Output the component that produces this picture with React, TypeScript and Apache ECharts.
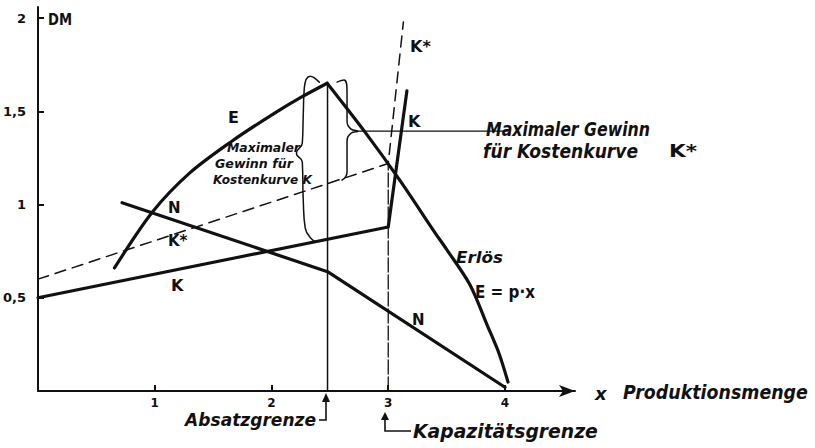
import React, { useEffect, useRef } from "react";
import * as echarts from "echarts";

// Data (x = Produktionsmenge, y = DM)
const erloesUp: number[][] = [
  [0.655, 0.66], [0.98, 0.96], [1.3, 1.17], [1.66, 1.34], [2.0, 1.48], [2.255, 1.576], [2.477, 1.651],
];
const erloesDown: number[][] = [
  [2.477, 1.651], [2.8, 1.39], [3.1, 1.13], [3.4, 0.85], [3.5, 0.76], [3.7, 0.57], [3.85, 0.35], [3.95, 0.2], [4.026, 0.048],
];
const kostenK: number[][] = [[0, 0.5], [3.0, 0.88], [3.16, 1.61]];
const kostenKStar: number[][] = [[0, 0.6], [3.0, 1.22], [3.13, 1.98]];
const nutzenN: number[][] = [[0.72, 1.01], [2.48, 0.64], [4.0, 0.02]];
const absatzgrenze: number[][] = [[2.48, 0], [2.48, 1.65]];
const kapazitaetsgrenze: number[][] = [[3.0, 0], [3.0, 1.22]];
const leader: number[][] = [[2.74, 1.394], [4.02, 1.394]];
const braceLeft: number[][] = [
  [2.409, 1.657], [2.332, 1.689], [2.281, 1.625], [2.272, 1.48], [2.264, 1.33],
  [2.213, 1.276], [2.264, 1.228], [2.272, 1.024], [2.289, 0.874], [2.366, 0.804],
];
const braceRight: number[][] = [
  [2.562, 1.657], [2.621, 1.668], [2.647, 1.603], [2.647, 1.453], [2.681, 1.405],
  [2.74, 1.394], [2.681, 1.383], [2.647, 1.335], [2.647, 1.174], [2.604, 1.131],
];
const xTicks = ["1", "2", "3", "4"];
const yTicks = ["0,5", "1", "1,5", "2"];

const FONT = "DejaVu Sans";
const INK = "#111";

function fmtX(v: number) {
  const i = Math.round(v) - 1;
  return Math.abs(v - Math.round(v)) < 1e-6 && i >= 0 && i < xTicks.length ? xTicks[i] : "";
}
function fmtY(v: number) {
  const i = Math.round(v / 0.5) - 1;
  return Math.abs(v / 0.5 - Math.round(v / 0.5)) < 1e-6 && i >= 0 && i < yTicks.length ? yTicks[i] : "";
}

function lineSeries(name: string, data: number[][], width: number, opts: any = {}) {
  return {
    name,
    type: "line",
    data,
    symbol: "none",
    silent: true,
    smooth: opts.smooth ?? false,
    lineStyle: { color: INK, width, type: opts.type ?? "solid", cap: "round", join: "round" },
    z: opts.z ?? 3,
  };
}

let measureCtx: CanvasRenderingContext2D | null = null;
function measure(text: string, font: string) {
  if (!measureCtx) measureCtx = document.createElement("canvas").getContext("2d");
  if (!measureCtx) return 0;
  measureCtx.font = font;
  return measureCtx.measureText(text).width;
}

function txt(text: string, x: number, y: number, size: number, o: any = {}) {
  const font = `${o.italic ? "italic " : ""}${o.bold ? "bold " : ""}${size}px "${FONT}"`;
  let scaleX = 1;
  if (o.width) {
    const w = measure(text, font);
    if (w > 0) scaleX = o.width / w;
  }
  return {
    type: "text",
    x,
    y,
    scaleX,
    silent: true,
    style: {
      text,
      fill: INK,
      font,
      align: o.align ?? "left",
      verticalAlign: "middle",
    },
  };
}

export default function App() {
  const ref = useRef<HTMLDivElement>(null);
  useEffect(() => {
    if (!ref.current) return;
    const chart = echarts.init(ref.current, null, { renderer: "svg" });
    chart.setOption({
      animation: false,
      backgroundColor: "#fff",
      grid: { left: 35, top: 7, width: 540, height: 384 },
      xAxis: {
        type: "value",
        min: 0,
        max: 4.6,
        interval: 1,
        splitLine: { show: false },
        axisLine: { show: true, lineStyle: { color: INK, width: 2 }, symbol: ["none", "arrow"], symbolSize: [9, 16] },
        axisTick: { show: true, inside: true, length: 6, lineStyle: { color: INK, width: 2 } },
        axisLabel: { formatter: fmtX, color: INK, fontFamily: FONT, fontWeight: "bold", fontSize: 12, margin: 6, showMaxLabel: false },
      },
      yAxis: {
        type: "value",
        min: 0,
        max: 2.06,
        interval: 0.5,
        splitLine: { show: false },
        axisLine: { show: true, lineStyle: { color: INK, width: 2 } },
        axisTick: { show: true, inside: true, length: 6, lineStyle: { color: INK, width: 2 } },
        axisLabel: { formatter: fmtY, color: INK, fontFamily: FONT, fontWeight: "bold", fontSize: 13, margin: 12, showMaxLabel: false },
      },
      series: [
        lineSeries("E1", erloesUp, 3.2, { smooth: 0.3 }),
        lineSeries("E2", erloesDown, 3.2, { smooth: 0.3 }),
        lineSeries("K", kostenK, 3.2),
        lineSeries("Kstar", kostenKStar, 1.5, { type: [11, 7] }),
        lineSeries("N", nutzenN, 3.2),
        lineSeries("Absatz", absatzgrenze, 1.5),
        lineSeries("Kapaz", kapazitaetsgrenze, 1.3, { type: [14, 3] }),
        lineSeries("Leader", leader, 1.4),
        lineSeries("BraceL", braceLeft, 1.5, { smooth: 0.5 }),
        lineSeries("BraceR", braceRight, 1.5, { smooth: 0.5 }),
      ],
      graphic: [
        txt("DM", 48, 19, 16, { bold: true, width: 24 }),
        txt("E", 228, 117, 16, { bold: true }),
        txt("N", 168, 208, 15, { bold: true }),
        txt("K*", 168, 241, 15, { bold: true }),
        txt("K", 171, 285, 16, { bold: true }),
        txt("K", 408, 121, 16, { bold: true }),
        txt("K*", 410, 46, 16, { bold: true }),
        txt("N", 412, 320, 15, { bold: true }),
        txt("Erlös", 456, 258, 16, { italic: true, bold: true, width: 47 }),
        txt("E = p·x", 475, 292, 17, { bold: true, width: 60 }),
        txt("Maximaler", 227, 147, 13, { italic: true, bold: true, width: 73 }),
        txt("Gewinn für", 215, 163, 13, { italic: true, bold: true, width: 78 }),
        txt("Kostenkurve K", 213, 179, 13, { italic: true, bold: true, width: 99 }),
        txt("Maximaler Gewinn", 486, 129, 19, { italic: true, bold: true, width: 164 }),
        txt("für Kostenkurve", 483, 151, 19, { italic: true, bold: true, width: 155 }),
        txt("K*", 669, 151, 18, { bold: true, width: 28 }),
        txt("x", 595, 393, 18, { italic: true, bold: true }),
        txt("Produktionsmenge", 623, 392, 20, { italic: true, bold: true, width: 185 }),
        txt("Absatzgrenze", 316, 420, 18, { italic: true, bold: true, align: "right", width: 131 }),
        txt("Kapazitätsgrenze", 413, 431, 19, { italic: true, bold: true, width: 185 }),
        {
          type: "polyline",
          silent: true,
          shape: { points: [[319, 420], [326, 420], [326, 399]] },
          style: { stroke: INK, lineWidth: 1.6, fill: "none" },
        },
        {
          type: "polygon",
          silent: true,
          shape: { points: [[326, 393], [322, 402], [330, 402]] },
          style: { fill: INK },
        },
        {
          type: "polyline",
          silent: true,
          shape: { points: [[411, 431], [385, 431], [385, 418]] },
          style: { stroke: INK, lineWidth: 1.6, fill: "none" },
        },
        {
          type: "polygon",
          silent: true,
          shape: { points: [[385, 412], [381, 420], [389, 420]] },
          style: { fill: INK },
        },
      ],
    });
    return () => chart.dispose();
  }, []);
  return <div ref={ref} style={{ width: 815, height: 448, position: "absolute", left: 0, top: 0 }} />;
}
